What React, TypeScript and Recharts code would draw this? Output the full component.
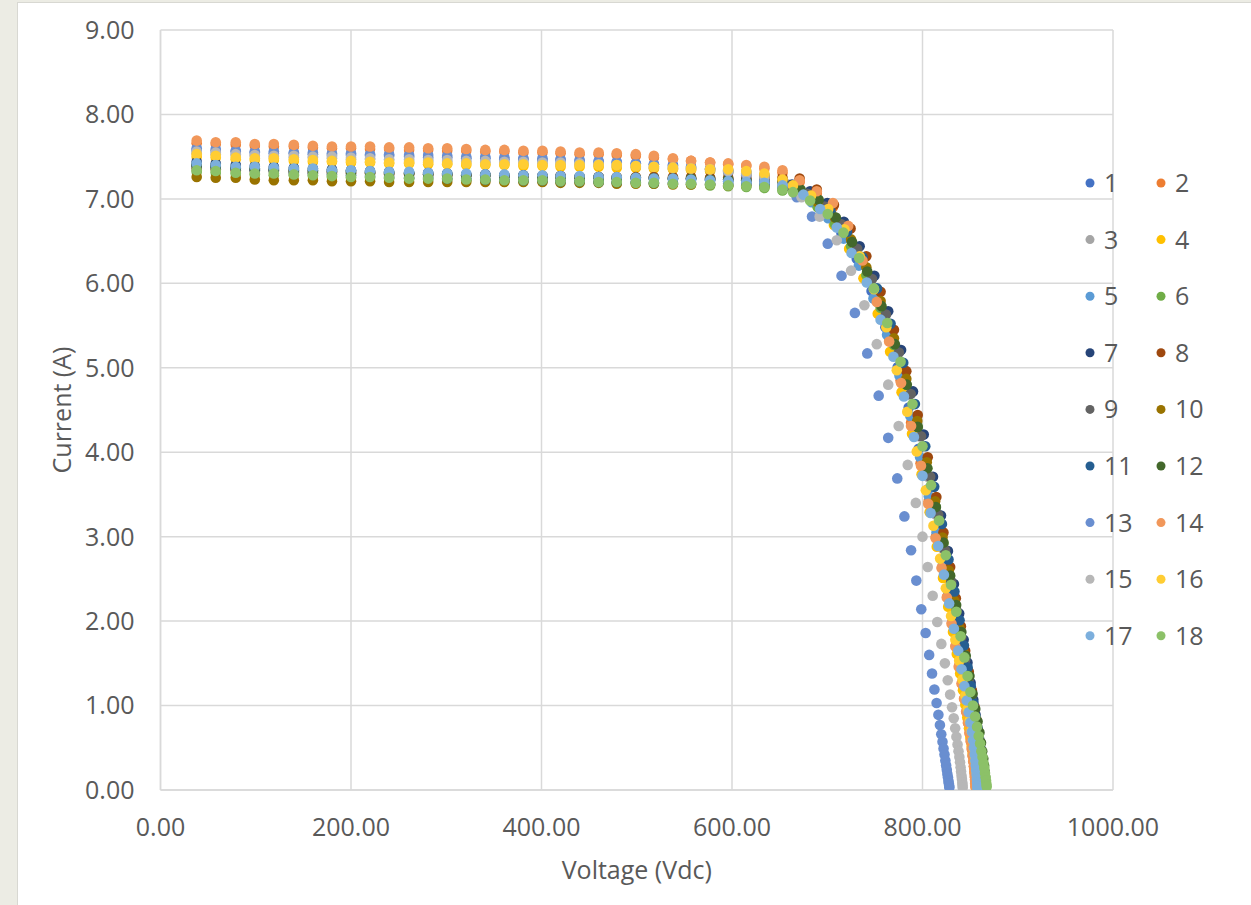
import React from 'react';
import { ScatterChart, Scatter, XAxis, YAxis, CartesianGrid } from 'recharts';

// Shared voltage sampling of the flat (constant-current) part of every curve
const flatVoltage = [38, 58, 79, 99, 119, 140, 160, 180, 200, 220, 240, 261, 281, 301, 321, 341, 361, 381, 401, 420, 440, 460, 479, 499, 518, 538, 557, 577, 596, 615, 634, 653];

const seriesNames = ['1', '2', '3', '4', '5', '6', '7', '8', '9', '10', '11', '12', '13', '14', '15', '16', '17', '18'];
const seriesColors = ['#4472C4', '#ED7D31', '#A5A5A5', '#FFC000', '#5B9BD5', '#70AD47', '#264478', '#9E480E', '#636363', '#997300', '#255E91', '#43682B', '#698ED0', '#F1975A', '#B7B7B7', '#FFCD33', '#7CAFDD', '#8CC168'];

const xTicks = [0, 200, 400, 600, 800, 1000];
const yTicks = [0, 1, 2, 3, 4, 5, 6, 7, 8, 9];

// Currents (A) at flatVoltage, per series
const flat1 = [7.58, 7.57, 7.56, 7.55, 7.54, 7.54, 7.53, 7.52, 7.52, 7.51, 7.51, 7.50, 7.49, 7.49, 7.48, 7.48, 7.47, 7.47, 7.46, 7.46, 7.45, 7.44, 7.43, 7.42, 7.41, 7.40, 7.38, 7.36, 7.34, 7.32, 7.28, 7.21];
const flat2 = [7.66, 7.65, 7.64, 7.63, 7.62, 7.62, 7.61, 7.60, 7.60, 7.59, 7.59, 7.58, 7.58, 7.57, 7.57, 7.56, 7.56, 7.55, 7.55, 7.54, 7.53, 7.53, 7.52, 7.51, 7.49, 7.47, 7.45, 7.43, 7.41, 7.39, 7.36, 7.31];
const flat3 = [7.54, 7.53, 7.52, 7.51, 7.50, 7.49, 7.49, 7.48, 7.47, 7.47, 7.46, 7.45, 7.45, 7.44, 7.44, 7.43, 7.43, 7.42, 7.42, 7.41, 7.41, 7.40, 7.39, 7.38, 7.37, 7.36, 7.35, 7.33, 7.31, 7.29, 7.26, 7.20];
const flat4 = [7.50, 7.49, 7.47, 7.46, 7.46, 7.45, 7.44, 7.44, 7.43, 7.43, 7.42, 7.42, 7.41, 7.41, 7.40, 7.40, 7.40, 7.39, 7.39, 7.38, 7.38, 7.38, 7.37, 7.37, 7.36, 7.35, 7.34, 7.33, 7.32, 7.30, 7.27, 7.21];
const flat5 = [7.40, 7.39, 7.37, 7.36, 7.36, 7.35, 7.34, 7.33, 7.33, 7.32, 7.31, 7.31, 7.30, 7.30, 7.29, 7.29, 7.28, 7.28, 7.27, 7.27, 7.26, 7.26, 7.25, 7.25, 7.24, 7.23, 7.23, 7.22, 7.21, 7.20, 7.18, 7.15];
const flat6 = [7.32, 7.31, 7.30, 7.29, 7.28, 7.28, 7.27, 7.26, 7.25, 7.25, 7.24, 7.24, 7.23, 7.23, 7.22, 7.22, 7.21, 7.21, 7.21, 7.20, 7.20, 7.20, 7.19, 7.19, 7.18, 7.18, 7.17, 7.16, 7.15, 7.14, 7.13, 7.10];
const flat7 = [7.44, 7.42, 7.40, 7.39, 7.38, 7.37, 7.36, 7.35, 7.34, 7.33, 7.32, 7.31, 7.31, 7.30, 7.29, 7.29, 7.28, 7.28, 7.27, 7.27, 7.26, 7.26, 7.25, 7.25, 7.25, 7.24, 7.24, 7.24, 7.23, 7.23, 7.22, 7.20];
const flat8 = [7.36, 7.35, 7.34, 7.33, 7.33, 7.32, 7.31, 7.31, 7.30, 7.30, 7.29, 7.29, 7.29, 7.28, 7.28, 7.28, 7.27, 7.27, 7.27, 7.27, 7.26, 7.26, 7.26, 7.26, 7.26, 7.26, 7.26, 7.25, 7.25, 7.25, 7.25, 7.25];
const flat9 = [7.38, 7.37, 7.36, 7.35, 7.34, 7.33, 7.33, 7.32, 7.31, 7.31, 7.30, 7.30, 7.29, 7.29, 7.28, 7.28, 7.27, 7.27, 7.27, 7.26, 7.26, 7.26, 7.25, 7.25, 7.25, 7.24, 7.24, 7.23, 7.23, 7.22, 7.21, 7.18];
const flat10 = [7.26, 7.25, 7.25, 7.23, 7.22, 7.22, 7.22, 7.21, 7.21, 7.21, 7.20, 7.20, 7.20, 7.20, 7.20, 7.20, 7.20, 7.20, 7.20, 7.19, 7.19, 7.19, 7.18, 7.18, 7.18, 7.17, 7.17, 7.17, 7.16, 7.16, 7.15, 7.13];
const flat11 = [7.40, 7.38, 7.36, 7.34, 7.33, 7.31, 7.30, 7.29, 7.28, 7.27, 7.26, 7.25, 7.25, 7.24, 7.24, 7.23, 7.23, 7.22, 7.22, 7.21, 7.21, 7.20, 7.20, 7.20, 7.19, 7.19, 7.19, 7.18, 7.18, 7.18, 7.17, 7.15];
const flat12 = [7.40, 7.39, 7.37, 7.36, 7.35, 7.34, 7.33, 7.33, 7.32, 7.31, 7.31, 7.30, 7.29, 7.29, 7.28, 7.28, 7.27, 7.27, 7.26, 7.26, 7.26, 7.25, 7.25, 7.25, 7.24, 7.24, 7.24, 7.23, 7.23, 7.22, 7.21, 7.19];
const flat13 = [7.60, 7.59, 7.57, 7.56, 7.56, 7.55, 7.55, 7.54, 7.54, 7.53, 7.53, 7.52, 7.52, 7.51, 7.50, 7.50, 7.49, 7.48, 7.48, 7.47, 7.46, 7.45, 7.44, 7.42, 7.41, 7.39, 7.37, 7.35, 7.32, 7.28, 7.22, 7.13];
const flat14 = [7.69, 7.67, 7.67, 7.65, 7.65, 7.64, 7.63, 7.62, 7.62, 7.62, 7.61, 7.61, 7.60, 7.60, 7.59, 7.58, 7.58, 7.57, 7.57, 7.56, 7.55, 7.55, 7.54, 7.53, 7.51, 7.48, 7.45, 7.43, 7.42, 7.40, 7.38, 7.34];
const flat15 = [7.56, 7.55, 7.53, 7.52, 7.51, 7.51, 7.50, 7.50, 7.49, 7.48, 7.47, 7.47, 7.46, 7.46, 7.45, 7.45, 7.44, 7.44, 7.43, 7.43, 7.42, 7.41, 7.40, 7.39, 7.38, 7.37, 7.36, 7.35, 7.33, 7.30, 7.26, 7.17];
const flat16 = [7.53, 7.51, 7.49, 7.48, 7.48, 7.47, 7.46, 7.45, 7.45, 7.44, 7.43, 7.43, 7.43, 7.42, 7.42, 7.41, 7.41, 7.41, 7.40, 7.40, 7.40, 7.40, 7.40, 7.39, 7.38, 7.37, 7.36, 7.35, 7.35, 7.33, 7.30, 7.23];
const flat17 = [7.42, 7.40, 7.38, 7.38, 7.37, 7.36, 7.36, 7.34, 7.34, 7.33, 7.32, 7.32, 7.31, 7.30, 7.30, 7.29, 7.29, 7.28, 7.28, 7.27, 7.27, 7.26, 7.26, 7.25, 7.24, 7.24, 7.23, 7.22, 7.21, 7.20, 7.19, 7.16];
const flat18 = [7.34, 7.33, 7.31, 7.30, 7.30, 7.29, 7.28, 7.27, 7.26, 7.26, 7.25, 7.24, 7.24, 7.24, 7.23, 7.23, 7.22, 7.22, 7.22, 7.21, 7.21, 7.20, 7.20, 7.19, 7.19, 7.18, 7.18, 7.17, 7.16, 7.15, 7.14, 7.11];

// Knee and steep part: [voltage, current]
const tail1 = [[662.5, 7.15], [681, 7.01], [698.5, 6.83], [715, 6.59], [731, 6.29], [746.5, 5.91], [761, 5.48], [774, 5.01], [785.5, 4.53], [796, 4.04], [805.5, 3.56], [813.8, 3.12], [820.8, 2.73], [826.8, 2.37], [832, 2.05], [836.5, 1.77], [840.3, 1.53], [843.5, 1.31], [846.3, 1.11], [848.5, 0.95], [850.4, 0.81], [852, 0.68], [853.4, 0.57], [854.5, 0.48], [855.4, 0.39], [856.2, 0.32], [856.8, 0.25], [857.3, 0.19], [857.7, 0.14], [857.9, 0.09], [858.1, 0.05]];
const tail2 = [[671, 7.20], [689, 7.06], [706, 6.90], [722, 6.63], [737, 6.25], [752, 5.79], [765, 5.33], [777, 4.85], [788, 4.35], [798, 3.87], [806.5, 3.42], [814, 3.00], [820.5, 2.63], [826, 2.29], [831, 1.98], [835, 1.71], [838.5, 1.47], [841.5, 1.26], [844, 1.08], [846.2, 0.92], [848, 0.79], [849.6, 0.67], [850.9, 0.57], [852, 0.48], [852.9, 0.40], [853.7, 0.33], [854.3, 0.26], [854.8, 0.20], [855.2, 0.15], [855.5, 0.10], [855.8, 0.06], [856, 0.03]];
const tail3 = [[658.7, 7.17], [677.4, 7.06], [695.4, 6.89], [712.8, 6.68], [728.8, 6.40], [744.5, 6.04], [759.2, 5.63], [772.9, 5.17], [785.3, 4.68], [796, 4.19], [805.7, 3.71], [814.3, 3.26], [821.5, 2.86], [827.7, 2.49], [833, 2.15], [837.7, 1.85], [841.6, 1.59], [844.9, 1.36], [847.8, 1.16], [850.1, 0.99], [852.1, 0.84], [853.9, 0.71], [855.4, 0.60], [856.6, 0.50], [857.7, 0.42], [858.5, 0.34], [859.2, 0.27], [859.8, 0.21], [860.2, 0.16], [860.6, 0.11], [860.9, 0.07], [861, 0.04]];
const tail4 = [[672, 7.08], [690, 6.91], [707, 6.69], [723, 6.41], [738, 6.06], [753, 5.64], [766, 5.19], [778, 4.71], [789, 4.22], [799, 3.74], [807.5, 3.29], [815, 2.88], [821.5, 2.51], [827, 2.17], [832, 1.87], [836, 1.61], [839.5, 1.38], [842.5, 1.18], [845, 1.01], [847, 0.86], [848.8, 0.73], [850.3, 0.62], [851.6, 0.52], [852.7, 0.43], [853.6, 0.35], [854.3, 0.28], [854.9, 0.22], [855.4, 0.16], [855.7, 0.11], [856, 0.07], [856.2, 0.03]];
const tail5 = [[665.6, 7.09], [683.6, 6.96], [700.9, 6.77], [717.2, 6.53], [733.2, 6.21], [748.5, 5.82], [762.8, 5.39], [775.8, 4.91], [787.2, 4.43], [797.5, 3.94], [806.7, 3.48], [814.7, 3.05], [821.6, 2.68], [827.4, 2.33], [832.5, 2.02], [836.9, 1.75], [840.9, 1.50], [844.1, 1.28], [846.8, 1.09], [849.1, 0.94], [851.1, 0.80], [852.8, 0.68], [854.3, 0.57], [855.5, 0.48], [856.4, 0.39], [857.2, 0.32], [857.8, 0.25], [858.3, 0.19], [858.6, 0.14], [858.9, 0.09], [859.1, 0.05]];
const tail6 = [[672, 7.03], [690, 6.90], [708, 6.70], [725, 6.44], [741, 6.10], [756, 5.71], [770, 5.27], [783, 4.80], [795, 4.30], [805, 3.81], [814, 3.35], [822, 2.92], [828.8, 2.53], [834.8, 2.18], [840, 1.86], [844.3, 1.58], [848, 1.34], [851.2, 1.13], [853.8, 0.96], [856, 0.81], [857.9, 0.68], [859.5, 0.57], [860.9, 0.47], [862, 0.39], [863, 0.31], [863.8, 0.25], [864.5, 0.19], [865, 0.14], [865.4, 0.10], [865.8, 0.06], [866, 0.03]];
const tail7 = [[663, 7.17], [682, 7.09], [700, 6.95], [717.5, 6.73], [734, 6.44], [749.5, 6.09], [764, 5.67], [777.5, 5.21], [790, 4.72], [801.3, 4.21], [811, 3.71], [819.4, 3.25], [826.7, 2.83], [833, 2.44], [838.5, 2.09], [843.2, 1.78], [847.2, 1.51], [850.5, 1.27], [853.3, 1.07], [855.7, 0.89], [857.7, 0.74], [859.4, 0.61], [860.7, 0.50], [861.8, 0.41], [862.7, 0.32], [863.3, 0.25], [863.8, 0.18], [864.2, 0.13], [864.4, 0.08], [864.5, 0.04]];
const tail8 = [[671, 7.24], [689, 7.11], [707, 6.93], [724.5, 6.65], [741, 6.32], [756, 5.90], [770, 5.45], [783, 4.96], [795, 4.44], [805.5, 3.94], [814.5, 3.47], [822, 3.05], [829, 2.64], [835, 2.27], [840.3, 1.94], [844.8, 1.65], [848.6, 1.40], [851.8, 1.18], [854.5, 0.99], [856.8, 0.83], [858.7, 0.69], [860.3, 0.57], [861.6, 0.46], [862.6, 0.37], [863.4, 0.29], [864, 0.22], [864.5, 0.16], [864.8, 0.11], [865, 0.06]];
const tail9 = [[660.6, 7.15], [679.2, 7.06], [697.2, 6.91], [714.8, 6.70], [731.4, 6.41], [747, 6.05], [761.6, 5.63], [775.2, 5.18], [787.6, 4.69], [798.5, 4.19], [808.1, 3.71], [816.5, 3.26], [823.7, 2.84], [830.2, 2.47], [835.9, 2.12], [840.7, 1.81], [844.8, 1.54], [848.3, 1.30], [851.2, 1.09], [853.7, 0.92], [855.8, 0.76], [857.5, 0.63], [858.9, 0.52], [860.1, 0.42], [861, 0.33], [861.6, 0.26], [862.2, 0.19], [862.5, 0.13], [862.8, 0.08], [862.9, 0.04]];
const tail10 = [[672, 7.07], [690, 6.96], [708, 6.78], [725, 6.52], [741, 6.19], [756, 5.79], [770, 5.35], [783, 4.87], [794.5, 4.37], [804.5, 3.88], [813.3, 3.42], [821, 2.99], [827.6, 2.60], [833.5, 2.24], [838.7, 1.92], [843, 1.63], [846.8, 1.38], [850, 1.16], [852.7, 0.97], [855, 0.81], [856.9, 0.67], [858.4, 0.55], [859.7, 0.45], [860.7, 0.36], [861.4, 0.28], [862, 0.21], [862.4, 0.15], [862.7, 0.10], [862.9, 0.05]];
const tail11 = [[667.3, 7.11], [685.5, 7.01], [703.5, 6.85], [720.8, 6.61], [737, 6.31], [752.3, 5.94], [766.5, 5.52], [779.8, 5.06], [792, 4.57], [802.9, 4.07], [812.3, 3.59], [820.4, 3.15], [827.3, 2.73], [833.5, 2.35], [838.9, 2.01], [843.5, 1.71], [847.4, 1.45], [850.7, 1.23], [853.5, 1.03], [855.8, 0.86], [857.7, 0.72], [859.2, 0.59], [860.5, 0.48], [861.5, 0.38], [862.2, 0.30], [862.9, 0.23], [863.3, 0.17], [863.6, 0.11], [863.9, 0.06]];
const tail12 = [[672, 7.11], [691, 6.99], [709, 6.78], [726, 6.49], [742, 6.14], [757, 5.73], [771, 5.28], [783.5, 4.80], [795, 4.30], [805, 3.81], [814, 3.35], [822, 2.93], [829, 2.54], [835.3, 2.19], [840.8, 1.87], [845.4, 1.59], [849.3, 1.35], [852.6, 1.14], [855.4, 0.96], [857.8, 0.81], [859.8, 0.68], [861.4, 0.56], [862.7, 0.46], [863.8, 0.37], [864.6, 0.29], [865.2, 0.22], [865.7, 0.16], [866, 0.11], [866.2, 0.06]];
const tail13 = [[668, 7.02], [684, 6.79], [700.5, 6.47], [715, 6.09], [729, 5.65], [742, 5.17], [754, 4.67], [764, 4.17], [773.5, 3.69], [781, 3.24], [788, 2.84], [793.5, 2.48], [798.7, 2.14], [803.3, 1.86], [807, 1.60], [810, 1.38], [812.5, 1.19], [814.8, 1.03], [816.7, 0.89], [818.3, 0.77], [819.7, 0.66], [821, 0.57], [822.1, 0.49], [823.1, 0.42], [824, 0.35], [824.8, 0.29], [825.5, 0.24], [826.1, 0.19], [826.7, 0.15], [827.2, 0.11], [827.6, 0.08], [828, 0.05], [828.2, 0.03]];
const tail14 = [[671, 7.22], [689, 7.09], [706, 6.95], [722, 6.68], [737, 6.27], [752, 5.78], [765, 5.31], [777.5, 4.82], [788, 4.31], [798.4, 3.84], [806, 3.39], [813.8, 2.98], [820, 2.63], [825.5, 2.28], [830.5, 1.97], [834.5, 1.70], [838, 1.46], [841, 1.26], [843.6, 1.08], [845.8, 0.93], [847.7, 0.80], [849.3, 0.68], [850.6, 0.58], [851.7, 0.49], [852.6, 0.41], [853.3, 0.34], [853.9, 0.28], [854.4, 0.22], [854.8, 0.17], [855.1, 0.12], [855.4, 0.08], [855.6, 0.04]];
const tail15 = [[673, 7.02], [692, 6.79], [710, 6.51], [725, 6.15], [739, 5.74], [752, 5.28], [764, 4.80], [775, 4.31], [784.5, 3.85], [793, 3.40], [800, 3.00], [805.5, 2.64], [810.7, 2.30], [815.5, 1.99], [819.8, 1.73], [823.5, 1.50], [826.5, 1.30], [829, 1.13], [831, 0.98], [832.8, 0.85], [834.3, 0.73], [835.6, 0.63], [836.8, 0.54], [837.8, 0.46], [838.7, 0.39], [839.4, 0.33], [840, 0.27], [840.5, 0.22], [841, 0.17], [841.4, 0.13], [841.8, 0.09], [842, 0.06], [842.2, 0.03]];
const tail16 = [[664, 7.16], [683, 7.04], [701, 6.88], [718, 6.64], [734, 6.32], [749, 5.93], [762, 5.48], [773, 4.97], [784, 4.48], [794, 4.01], [803.5, 3.55], [811.5, 3.13], [818.5, 2.74], [824.5, 2.39], [830, 2.06], [834.5, 1.78], [838.5, 1.53], [842, 1.31], [845, 1.12], [847.5, 0.96], [849.6, 0.82], [851.4, 0.70], [852.9, 0.59], [854.1, 0.49], [855.1, 0.41], [855.9, 0.34], [856.5, 0.27], [857, 0.21], [857.4, 0.16], [857.7, 0.11], [858, 0.07], [858.1, 0.03]];
const tail17 = [[675, 7.05], [692.5, 6.88], [710, 6.66], [725.5, 6.36], [741.5, 6.01], [756, 5.57], [769.5, 5.13], [780.5, 4.66], [791, 4.18], [800, 3.72], [808.5, 3.28], [816.5, 2.89], [822.5, 2.55], [828, 2.21], [833, 1.91], [837.5, 1.65], [841, 1.43], [844, 1.23], [846.5, 1.06], [848.5, 0.92], [850.3, 0.80], [851.8, 0.69], [853, 0.59], [854, 0.50], [854.8, 0.42], [855.5, 0.35], [856, 0.29], [856.4, 0.23], [856.8, 0.18], [857.1, 0.13], [857.3, 0.09], [857.5, 0.05], [857.6, 0.02]];
const tail18 = [[664, 7.08], [682, 6.98], [700.5, 6.82], [717, 6.60], [733.5, 6.30], [749, 5.94], [763, 5.53], [777, 5.07], [789.5, 4.57], [800, 4.07], [809, 3.61], [817.5, 3.19], [824.5, 2.78], [830, 2.43], [835.5, 2.11], [840, 1.82], [844, 1.57], [847.3, 1.35], [850.3, 1.16], [853, 1.00], [855.3, 0.87], [857.3, 0.75], [859, 0.64], [860.5, 0.55], [861.8, 0.46], [863, 0.39], [864, 0.32], [864.9, 0.26], [865.6, 0.20], [866.2, 0.15], [866.7, 0.11], [867.1, 0.07], [867.4, 0.04]];

const flats = [flat1, flat2, flat3, flat4, flat5, flat6, flat7, flat8, flat9, flat10, flat11, flat12, flat13, flat14, flat15, flat16, flat17, flat18];
const tails = [tail1, tail2, tail3, tail4, tail5, tail6, tail7, tail8, tail9, tail10, tail11, tail12, tail13, tail14, tail15, tail16, tail17, tail18];

const seriesData = seriesNames.map((name, s) => ({
  name,
  color: seriesColors[s],
  points: flatVoltage
    .map((v, k) => ({ v, i: flats[s][k] }))
    .concat(tails[s].map(([v, i]) => ({ v, i }))),
}));

const FONT = "'Open Sans', sans-serif";
const TEXT = '#595959';
const GRID = '#d9d9d9';

const makeDot = (color: string) => (props: any) => {
  if (props.cx == null || props.cy == null) return <g />;
  return <circle cx={props.cx} cy={props.cy} r={5.3} fill={color} />;
};

const fmt = (v: number) => v.toFixed(2);

export default function App() {
  return (
    <div style={{ position: 'fixed', left: 0, top: 0, width: 1251, height: 905, background: '#ecece4', overflow: 'hidden' }}>
      <div style={{ position: 'absolute', left: 17, top: 2, width: 1250, height: 920, background: '#ffffff', border: '1px solid #d8d8d2', boxSizing: 'border-box' }} />
      <div style={{ position: 'absolute', left: 0, top: 0 }}>
        <ScatterChart width={1251} height={905} margin={{ top: 30, right: 138, bottom: 55, left: 60.5 }}>
          <CartesianGrid stroke={GRID} strokeWidth={1.5} horizontal vertical />
          <XAxis
            type="number"
            dataKey="v"
            domain={[0, 1000]}
            ticks={xTicks}
            tickFormatter={fmt}
            height={60}
            tickSize={0}
            tickMargin={28}
            axisLine={{ stroke: GRID, strokeWidth: 1.5 }}
            tickLine={false}
            tick={{ fill: TEXT, fontSize: 25, fontFamily: FONT }}
            allowDataOverflow
            label={{ value: 'Voltage (Vdc)', position: 'bottom', offset: 11, fill: TEXT, fontSize: 25, fontFamily: FONT }}
          />
          <YAxis
            type="number"
            dataKey="i"
            domain={[0, 9]}
            ticks={yTicks}
            tickFormatter={fmt}
            width={100}
            tickSize={0}
            tickMargin={26}
            axisLine={{ stroke: GRID, strokeWidth: 1.5 }}
            tickLine={false}
            tick={{ fill: TEXT, fontSize: 25, fontFamily: FONT }}
            allowDataOverflow
            label={{ value: 'Current (A)', angle: -90, position: 'insideLeft', offset: 2, fill: TEXT, fontSize: 25, fontFamily: FONT, style: { textAnchor: 'middle' } }}
          />
          {seriesData.map((s) => (
            <Scatter key={s.name} name={s.name} data={s.points} fill={s.color} shape={makeDot(s.color)} isAnimationActive={false} />
          ))}
        </ScatterChart>
      </div>
      <svg style={{ position: 'absolute', left: 0, top: 0, pointerEvents: 'none' }} width={1251} height={905}>
        {seriesData.map((s, k) => {
          const col = k % 2;
          const row = Math.floor(k / 2);
          const cy = 183 + row * 56.6;
          const mx = col === 0 ? 1090 : 1161;
          const tx = col === 0 ? 1104 : 1175;
          return (
            <g key={s.name}>
              <circle cx={mx} cy={cy} r={4.5} fill={s.color} />
              <text x={tx} y={cy + 9} fill={TEXT} fontSize={25} fontFamily={FONT}>{s.name}</text>
            </g>
          );
        })}
      </svg>
    </div>
  );
}
